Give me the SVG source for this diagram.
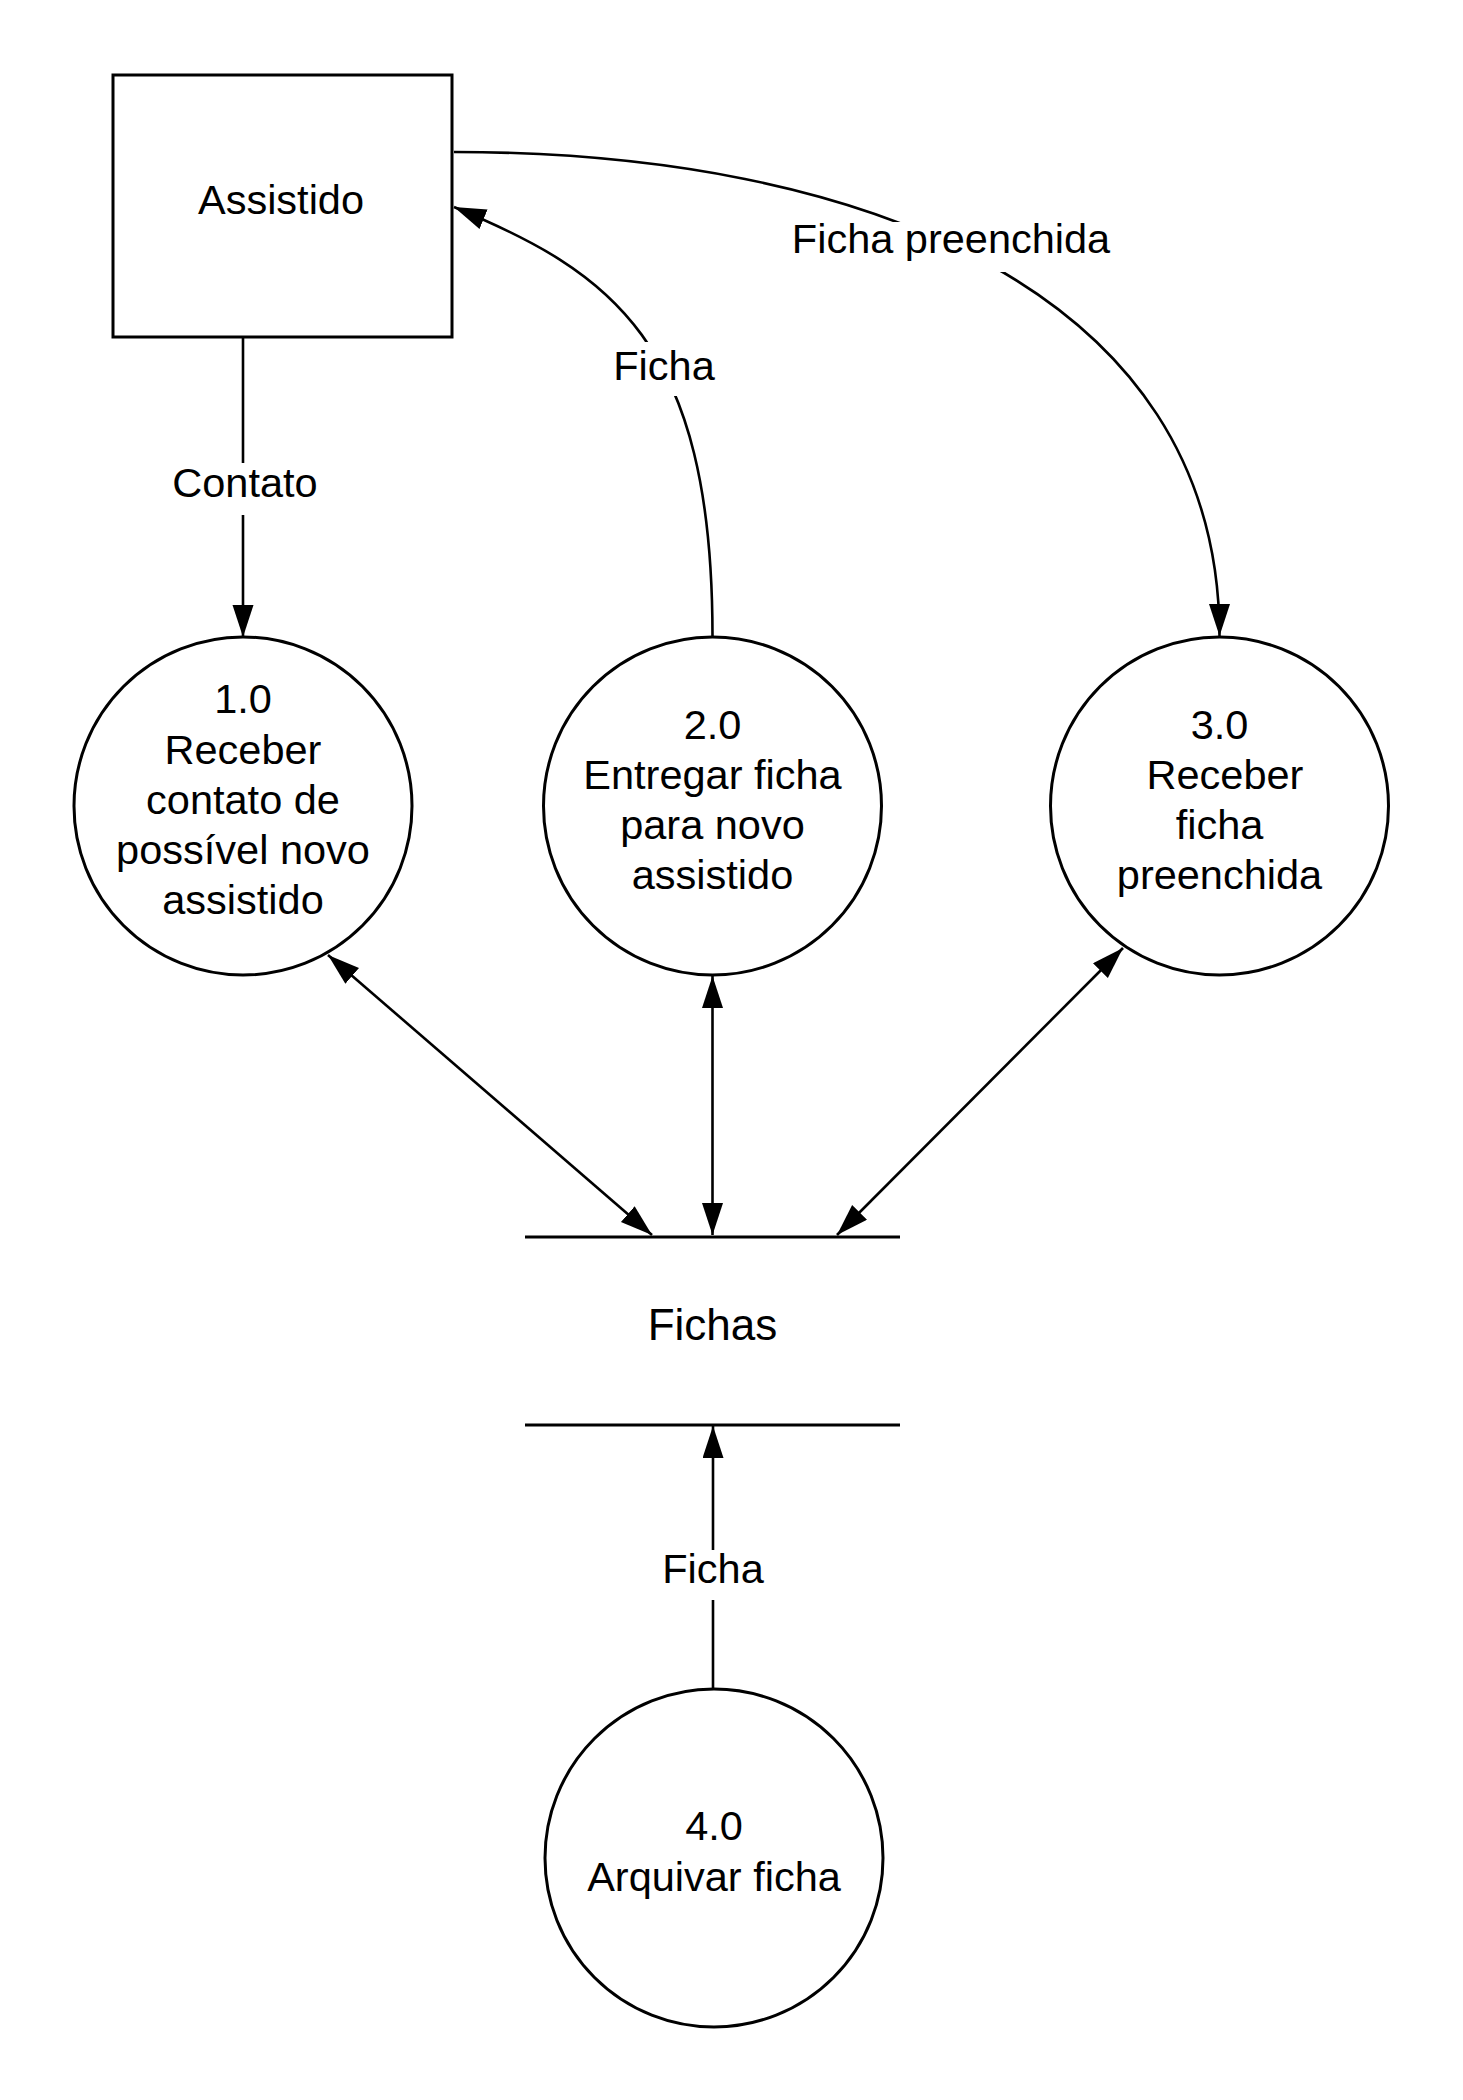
<svg xmlns="http://www.w3.org/2000/svg" width="1463" height="2100" viewBox="0 0 1463 2100">
<style>
.shape{fill:#fff;stroke:#000;stroke-width:3}
.conn{fill:none;stroke:#000;stroke-width:2.6}
.store{stroke:#000;stroke-width:3.2}
text{font-family:"Liberation Sans",Arial,sans-serif;font-size:41.5px;fill:#000;text-anchor:middle}
.lbg{fill:#fff;stroke:none}
</style>
<defs>
<marker id="ah" markerUnits="userSpaceOnUse" markerWidth="34" markerHeight="22" refX="32" refY="10.5" orient="auto-start-reverse" viewBox="0 0 34 22">
<path d="M0,0 L32,10.5 L0,21 z" fill="#000"/>
</marker>
</defs>
<rect width="1463" height="2100" fill="#fff"/>

<g id="connectors">
<path class="conn" d="M243,338 L243,637" marker-end="url(#ah)"/>
<path class="conn" d="M712.5,636 C712.5,340 610,272 454,207" marker-end="url(#ah)"/>
<path class="conn" d="M454,152 C860,152 1219.5,290 1219.5,636" marker-end="url(#ah)"/>
<path class="conn" d="M328,955 L652,1235" marker-start="url(#ah)" marker-end="url(#ah)"/>
<path class="conn" d="M712.5,976 L712.5,1235" marker-start="url(#ah)" marker-end="url(#ah)"/>
<path class="conn" d="M1123,948 L837,1235" marker-start="url(#ah)" marker-end="url(#ah)"/>
<path class="conn" d="M713,1688 L713,1426" marker-end="url(#ah)"/>
<rect class="lbg" x="165" y="463" width="160" height="52"/>
<text x="245" y="497">Contato</text>
<rect class="lbg" x="610" y="342" width="108" height="54"/>
<text x="664" y="380">Ficha</text>
<rect class="lbg" x="786" y="222" width="330" height="50"/>
<text x="951" y="253">Ficha preenchida</text>
<rect class="lbg" x="660" y="1550" width="106" height="50"/>
<text x="713" y="1583">Ficha</text>
</g>

<g id="assistido">
<rect class="shape" x="113" y="75" width="339" height="262"/>
<text x="281" y="214">Assistido</text>
</g>

<g id="p1">
<circle class="shape" cx="243" cy="806" r="169"/>
<text x="243" y="713">1.0</text>
<text x="243" y="764">Receber</text>
<text x="243" y="814">contato de</text>
<text x="243" y="864">possível novo</text>
<text x="243" y="914">assistido</text>
</g>

<g id="p2">
<circle class="shape" cx="712.5" cy="806" r="169"/>
<text x="712.5" y="739">2.0</text>
<text x="712.5" y="789">Entregar ficha</text>
<text x="712.5" y="839">para novo</text>
<text x="712.5" y="889">assistido</text>
</g>

<g id="p3">
<circle class="shape" cx="1219.5" cy="806" r="169"/>
<text x="1219.5" y="739">3.0</text>
<text x="1225" y="789">Receber</text>
<text x="1219.5" y="839">ficha</text>
<text x="1219.5" y="889">preenchida</text>
</g>

<g id="fichas">
<line class="store" x1="525" y1="1237" x2="900" y2="1237"/>
<line class="store" x1="525" y1="1425" x2="900" y2="1425"/>
<text x="712.5" y="1340" style="font-size:44px">Fichas</text>
</g>

<g id="p4">
<circle class="shape" cx="714" cy="1858" r="169"/>
<text x="714" y="1840">4.0</text>
<text x="714" y="1891">Arquivar ficha</text>
</g>
</svg>
